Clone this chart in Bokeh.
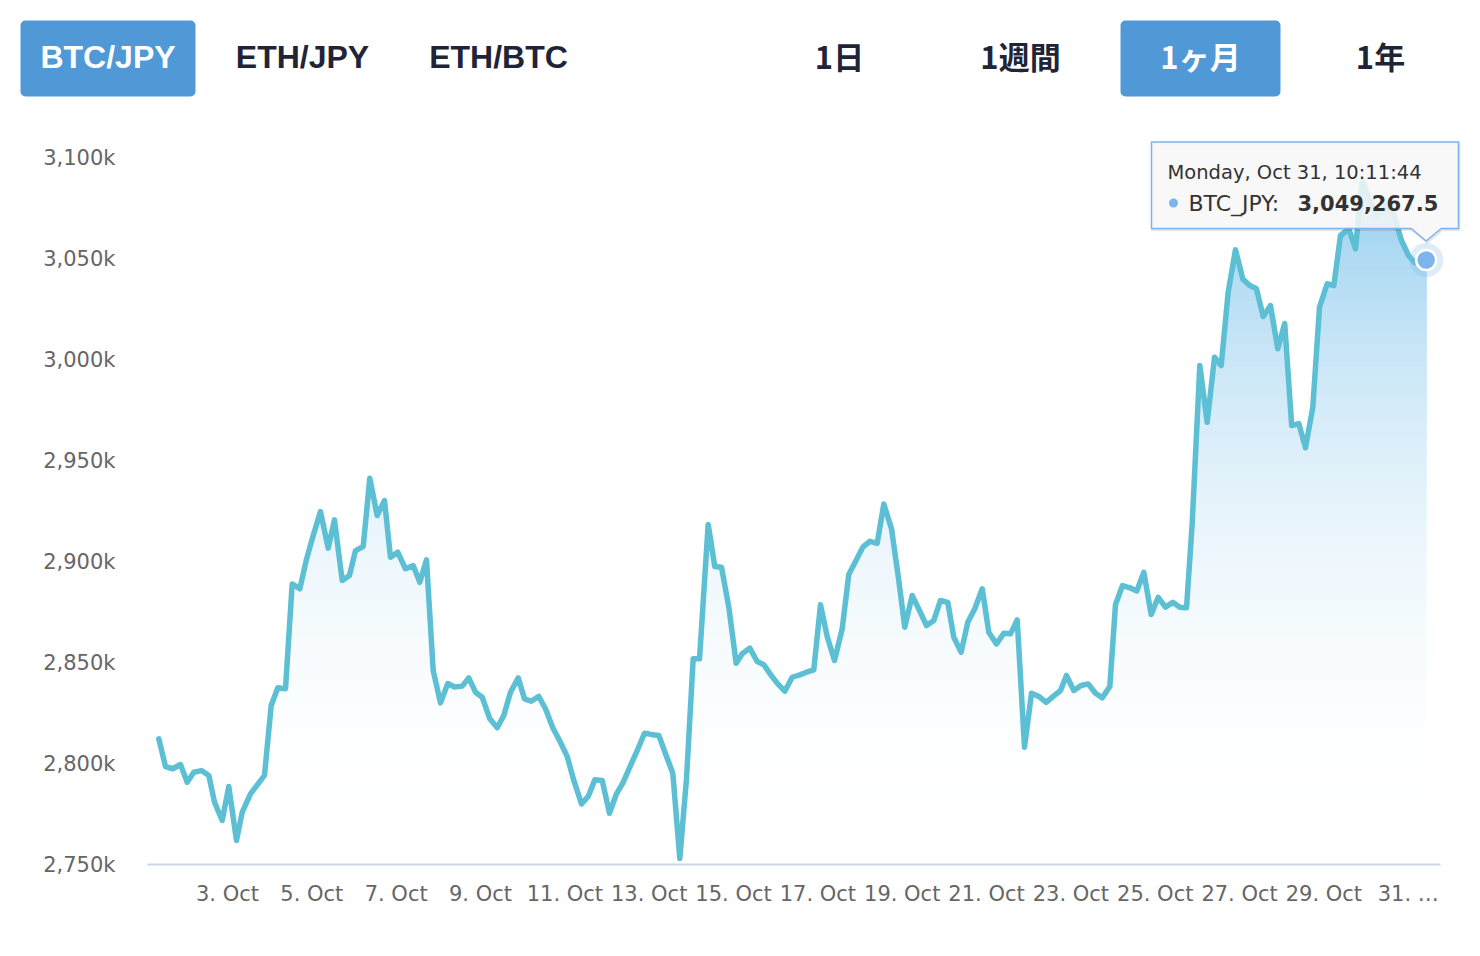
import numpy as np
from bokeh.plotting import figure
from bokeh.layouts import column
from bokeh.models import Range1d, FixedTicker, Label
from bokeh.core.properties import value
from bokeh.embed import file_html
from bokeh.resources import INLINE

# ---------------- data ----------------
pairs = ["BTC/JPY", "ETH/JPY", "ETH/BTC"]
periods = ["1日", "1週間", "1ヶ月", "1年"]
active_pair = "BTC/JPY"
active_period = "1ヶ月"

series_name = "BTC_JPY"
tooltip_time = "Monday, Oct 31, 10:11:44"

# day of October (fractional) and price in thousand JPY
oct_day = [
    1.371, 1.530, 1.703, 1.885, 2.044, 2.201, 2.383, 2.557, 2.692, 2.874,
    3.031, 3.213, 3.349, 3.545, 3.877, 4.036, 4.193, 4.375, 4.534, 4.715,
    4.866, 5.009, 5.205, 5.388, 5.537, 5.720, 5.893, 6.035, 6.218, 6.374,
    6.550, 6.723, 6.865, 7.038, 7.221, 7.404, 7.560, 7.719, 7.878, 8.051,
    8.224, 8.383, 8.566, 8.722, 8.881, 9.040, 9.220, 9.396, 9.552, 9.711,
    9.894, 10.043, 10.202, 10.382, 10.541, 10.714, 10.873, 11.055, 11.212, 11.395,
    11.554, 11.710, 11.886, 12.058, 12.225, 12.383, 12.540, 12.715, 12.889, 13.047,
    13.228, 13.387, 13.560, 13.726, 13.885, 14.043, 14.193, 14.399, 14.556, 14.715,
    14.888, 15.063, 15.205, 15.386, 15.561, 15.718, 15.893, 16.050, 16.216, 16.391,
    16.571, 16.730, 16.903, 17.062, 17.221, 17.394, 17.577, 17.733, 17.892, 18.065,
    18.231, 18.407, 18.563, 18.746, 18.912, 19.061, 19.237, 19.410, 19.576, 19.749,
    19.908, 20.081, 20.223, 20.398, 20.555, 20.721, 20.897, 21.053, 21.236, 21.409,
    21.568, 21.727, 21.900, 22.066, 22.239, 22.414, 22.580, 22.753, 22.896, 23.069,
    23.244, 23.410, 23.583, 23.742, 23.923, 24.058, 24.224, 24.402, 24.563, 24.729,
    24.904, 25.070, 25.243, 25.417, 25.583, 25.742, 25.876, 26.057, 26.232, 26.406,
    26.564, 26.730, 26.903, 27.076, 27.242, 27.401, 27.560, 27.733, 27.906, 28.070,
    28.236, 28.404, 28.563, 28.737, 28.895, 29.078, 29.235, 29.393, 29.590, 29.749,
    29.908, 30.069, 30.259, 30.508, 30.662, 30.840, 31.006, 31.148, 31.4248,
]
btc_jpy_k = [
    2812.2, 2798.5, 2797.4, 2799.5, 2790.7, 2795.7, 2796.5, 2794.1, 2780.8, 2771.8,
    2788.6, 2761.9, 2775.9, 2785.0, 2794.1, 2828.7, 2837.5, 2837.0, 2888.9, 2886.5,
    2900.5, 2911.2, 2924.7, 2906.6, 2920.6, 2890.6, 2893.1, 2905.4, 2907.4, 2941.2,
    2922.8, 2930.2, 2902.1, 2904.6, 2896.4, 2898.0, 2889.7, 2900.8, 2846.0, 2830.0,
    2839.6, 2837.9, 2838.3, 2842.4, 2835.3, 2832.8, 2822.1, 2817.7, 2823.8, 2835.3,
    2842.4, 2832.0, 2830.8, 2833.2, 2827.1, 2817.7, 2811.4, 2803.5, 2791.6, 2780.0,
    2783.7, 2791.9, 2791.6, 2775.4, 2785.0, 2790.7, 2798.2, 2806.4, 2815.0, 2814.4,
    2813.9, 2804.8, 2795.2, 2753.0, 2792.6, 2851.8, 2851.8, 2918.3, 2897.5, 2897.2,
    2877.4, 2849.6, 2854.3, 2857.1, 2850.5, 2848.9, 2843.6, 2839.4, 2835.8, 2842.7,
    2843.9, 2845.2, 2846.4, 2878.6, 2862.9, 2851.0, 2866.7, 2893.6, 2900.0, 2907.1,
    2910.0, 2909.0, 2928.4, 2916.3, 2891.6, 2867.5, 2883.2, 2875.7, 2868.3, 2870.8,
    2880.7, 2879.8, 2862.5, 2855.1, 2869.9, 2876.6, 2886.5, 2865.0, 2859.2, 2864.5,
    2864.2, 2871.1, 2808.1, 2834.8, 2833.2, 2830.3, 2833.2, 2836.1, 2843.6, 2836.1,
    2838.6, 2839.4, 2834.8, 2832.5, 2838.1, 2878.7, 2888.1, 2887.0, 2885.4, 2894.7,
    2873.8, 2882.3, 2877.4, 2879.8, 2877.4, 2877.1, 2918.6, 2997.0, 2968.9, 3001.1,
    2997.0, 3033.3, 3054.3, 3039.9, 3036.6, 3035.0, 3021.3, 3026.7, 3005.3, 3017.8,
    2967.3, 2968.3, 2956.3, 2976.4, 3025.9, 3037.5, 3036.6, 3061.4, 3064.7, 3054.8,
    3088.6, 3079.7, 3070.8, 3077.2, 3071.3, 3058.9, 3051.5, 3048.0, 3049.2675,
]

x_tick_days = list(range(3, 32, 2))
x_tick_labels = {d: f"{d}. Oct" for d in x_tick_days}
x_tick_labels[31] = "31. \u2026"
y_ticks_k = [2750, 2800, 2850, 2900, 2950, 3000, 3050, 3100]

# ---------------- styles / layout ----------------
W, H_TOP, H_CHART = 1480, 112, 844
BTN_BLUE = "#5098d6"
DARK = "#1f2537"
LINE = "#5cbfd3"
MARK = "#7cb5ec"
AXIS_TXT = "#666666"

# ---------------- top button bar ----------------
top = figure(width=W, height=H_TOP, x_range=Range1d(0, W), y_range=Range1d(H_TOP, 0),
             toolbar_location=None, output_backend="svg", min_border=0,
             x_axis_type=None, y_axis_type=None)
top.frame_align = False
top.outline_line_color = None
top.background_fill_color = "white"
top.border_fill_color = "white"

pair_cx = [107.5, 302, 498]
period_cx = [839, 1020, 1200, 1380]
btn_top, btn_bot = 20, 96
pair_w, period_w = 175, 160
label_y_latin = 56.5
label_y_cjk = 55.0

ai = pairs.index(active_pair)
pi = periods.index(active_period)
top.quad(left=[pair_cx[ai] - pair_w / 2, period_cx[pi] - period_w / 2],
         right=[pair_cx[ai] + pair_w / 2, period_cx[pi] + period_w / 2],
         top=[btn_top, btn_top], bottom=[btn_bot, btn_bot],
         fill_color=BTN_BLUE, line_color=None, border_radius=5)

top.text(x=pair_cx, y=[label_y_latin] * len(pairs), text=pairs,
         text_color=["white" if p == active_pair else DARK for p in pairs],
         text_font=value("Liberation Sans"), text_font_style="bold",
         text_font_size="32px", text_align="center", text_baseline="middle")
top.text(x=period_cx, y=[label_y_cjk] * len(periods), text=periods,
         text_color=["white" if p == active_period else DARK for p in periods],
         text_font=value("Noto Sans CJK JP"), text_font_style="bold",
         text_font_size="31px", text_align="center", text_baseline="middle")

# ---------------- chart ----------------
FRAME_W = 1313
FRAME_H = 729
x_start, x_end = 1.103, 32.239
y_start, y_end = 2750.0, 3110.9

chart = figure(width=W, height=H_CHART,
               x_range=Range1d(x_start, x_end), y_range=Range1d(y_start, y_end),
               toolbar_location=None, output_backend="svg",
               min_border_left=147, min_border_right=20,
               min_border_top=23, min_border_bottom=92)
chart.frame_align = False
chart.outline_line_color = None
chart.grid.visible = False
chart.background_fill_color = "white"
chart.border_fill_color = "white"

days = np.array(oct_day)
prices = np.array(btc_jpy_k)

# vertical gradient fill, built from stacked areas
def clipped(xs, ys, L):
    ox, oy = [], []
    for i in range(len(xs)):
        if i > 0:
            a, b = ys[i - 1], ys[i]
            if (a - L) * (b - L) < 0:
                t = (L - a) / (b - a)
                ox.append(xs[i - 1] + t * (xs[i] - xs[i - 1]))
                oy.append(L)
        ox.append(xs[i])
        oy.append(max(ys[i], L))
    return ox, oy

top_rgb = np.array([151, 207, 239])
white = np.array([255, 255, 255])
g_hi = prices.max()
g_lo = y_start
step = 3.0
levels = np.arange(2756.0, g_hi, step)
for L in levels:
    t = np.clip((g_hi - (L + step / 2)) / (g_hi - g_lo), 0, 1)
    k = (1 - t) ** 2.2
    rgb = white - (white - top_rgb) * k
    col = "#%02x%02x%02x" % tuple(int(round(c)) for c in rgb)
    ox, oy = clipped(days, prices, L)
    chart.varea(x=ox, y1=L, y2=oy, fill_color=col, fill_alpha=1.0)

chart.line(days, prices, line_color=LINE, line_width=5.5,
           line_join="round", line_cap="round")

ax, ay = days[-1], prices[-1]
chart.scatter([ax], [ay], size=34, fill_color=MARK, fill_alpha=0.25, line_color=None)
chart.scatter([ax], [ay], size=20, fill_color=MARK, line_color="white", line_width=2.5)

# axes
chart.xaxis.ticker = FixedTicker(ticks=x_tick_days)
chart.xaxis.major_label_overrides = x_tick_labels
chart.xaxis.bounds = (x_start, 31.765)
chart.xaxis.axis_line_color = "#ccd6eb"
chart.xaxis.axis_line_width = 2
chart.xaxis.major_tick_line_color = None
chart.xaxis.minor_tick_line_color = None
chart.xaxis.major_tick_out = 0
chart.xaxis.major_tick_in = 0
chart.xaxis.major_label_standoff = 17
chart.xaxis.major_label_text_font = "DejaVu Sans"
chart.xaxis.major_label_text_font_size = "21px"
chart.xaxis.major_label_text_color = AXIS_TXT

chart.yaxis.ticker = FixedTicker(ticks=y_ticks_k)
chart.yaxis.major_label_overrides = {v: f"{v:,}k" for v in y_ticks_k}
chart.yaxis.axis_line_color = None
chart.yaxis.major_tick_line_color = None
chart.yaxis.minor_tick_line_color = None
chart.yaxis.major_tick_out = 0
chart.yaxis.major_tick_in = 0
chart.yaxis.major_label_standoff = 32
chart.yaxis.major_label_text_font = "DejaVu Sans"
chart.yaxis.major_label_text_font_size = "21px"
chart.yaxis.major_label_text_color = AXIS_TXT

# tooltip (anchored on the last point, offsets in screen pixels)
sx = (x_end - x_start) / FRAME_W
sy = (y_end - y_start) / FRAME_H

def at(dx, dy):
    return ax + dx * sx, ay - dy * sy

shape = [(-15, -31.5), (-274.7, -31.5), (-274.7, -118), (32.3, -118),
         (32.3, -31.5), (15, -31.5), (0, -19)]
sh = [at(dx + 1, dy + 1) for dx, dy in shape]
chart.patch([p[0] for p in sh], [p[1] for p in sh], fill_color=None,
            line_color="black", line_alpha=0.10, line_width=3, line_join="round")
pts = [at(dx, dy) for dx, dy in shape]
chart.patch([p[0] for p in pts], [p[1] for p in pts], fill_color="#f7f7f7",
            fill_alpha=0.85, line_color=MARK, line_width=1.5, line_join="round")

lx, ly = at(-258.7, -87.5)
chart.add_layout(Label(x=lx, y=ly, text=tooltip_time, text_font="DejaVu Sans",
                       text_font_size="19.5px", text_color="#333333",
                       text_baseline="alphabetic"))
dxp, dyp = at(-252.7, -57.0)
chart.scatter([dxp], [dyp], size=9, fill_color=MARK, line_color=None)
nx, ny = at(-237.7, -56.5)
chart.add_layout(Label(x=nx, y=ny, text=f"{series_name}:", text_font="DejaVu Sans",
                       text_font_size="22px", text_color="#333333",
                       text_baseline="alphabetic"))
vx, vy = at(-128.7, -56.5)
chart.add_layout(Label(x=vx, y=vy, text=f"{ay * 1000:,.1f}", text_font="DejaVu Sans",
                       text_font_size="21px", text_font_style="bold",
                       text_color="#333333", text_baseline="alphabetic"))

layout = column(top, chart)
open("out.html", "w").write(file_html(layout, INLINE))
